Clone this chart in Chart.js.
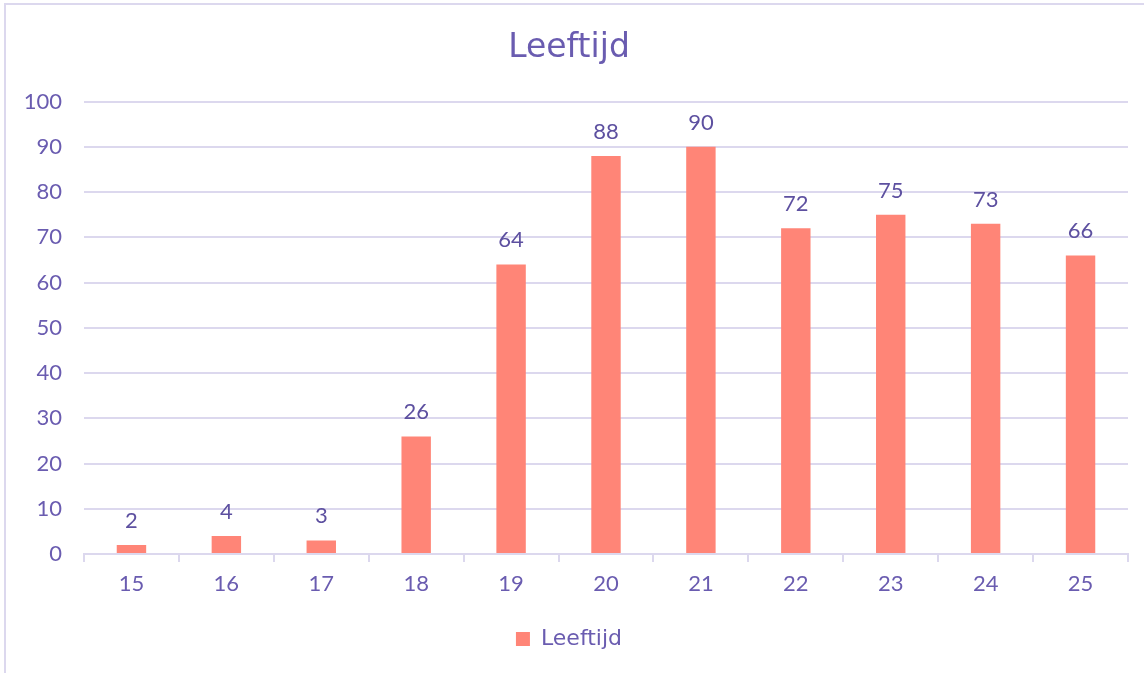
<!DOCTYPE html>
<html>
<head>
<meta charset="utf-8">
<script src="https://cdn.jsdelivr.net/npm/chart.js@4"></script>
<style>
  html, body { margin: 0; padding: 0; background: #fff; }
  #wrap { position: relative; width: 1144px; height: 673px; overflow: hidden; }
  #frame {
    position: absolute; left: 4px; top: 3px; right: -10px; bottom: -10px;
    border-left: 2px solid #dcd8ee; border-top: 2px solid #dcd8ee;
  }
  canvas { position: absolute; left: 0; top: 0; }
</style>
</head>
<body>
<div id="wrap">
  <div id="frame"></div>
  <canvas id="chart" width="1144" height="673"></canvas>
</div>
<script>
// Chart data
const ages = ['15', '16', '17', '18', '19', '20', '21', '22', '23', '24', '25'];
const counts = [2, 4, 3, 26, 64, 88, 90, 72, 75, 73, 66];
const seriesName = 'Leeftijd';
const chartTitle = 'Leeftijd';

const textColor = '#6a5cb0';
const gridColor = '#dcd8ee';
const barColor = '#ff8577';
const textFont = '"DejaVu Sans", sans-serif';
const numberFont = 'Lato, "Noto Sans", sans-serif';

// Draws value labels above each bar
const valueLabels = {
  id: 'valueLabels',
  afterDatasetsDraw(chart) {
    const { ctx } = chart;
    const meta = chart.getDatasetMeta(0);
    ctx.save();
    ctx.font = `22px ${numberFont}`;
    ctx.fillStyle = '#5d50a0';
    ctx.textAlign = 'center';
    ctx.textBaseline = 'alphabetic';
    meta.data.forEach((bar, i) => {
      ctx.fillText(String(counts[i]), bar.x, bar.y - 17);
    });
    ctx.restore();
  },
};

const canvas = document.getElementById('chart');
new Chart(canvas.getContext('2d'), {
  type: 'bar',
  data: {
    labels: ages,
    datasets: [{
      label: seriesName,
      data: counts,
      backgroundColor: barColor,
      categoryPercentage: 1,
      barPercentage: 0.31,
    }],
  },
  options: {
    responsive: false,
    animation: false,
    layout: {
      padding: { left: 10, right: 16, top: 15, bottom: 13 },
    },
    plugins: {
      title: {
        display: true,
        text: chartTitle,
        color: textColor,
        font: { family: textFont, size: 33, weight: 'normal' },
        padding: { top: 14, bottom: 33 },
      },
      legend: {
        position: 'bottom',
        labels: {
          color: textColor,
          font: { family: textFont, size: 22 },
          boxWidth: 14,
          boxHeight: 14,
          padding: 10,
        },
      },
      tooltip: { enabled: false },
    },
    scales: {
      x: {
        afterFit(scale) {
          scale.height = 64;
        },
        grid: {
          display: true,
          drawOnChartArea: false,
          drawTicks: true,
          tickLength: 8,
          color: gridColor,
          lineWidth: 2,
          offset: true,
        },
        border: { display: true, color: gridColor, width: 2 },
        ticks: {
          color: textColor,
          font: { family: numberFont, size: 22 },
          padding: 9,
        },
      },
      y: {
        min: 0,
        max: 100,
        afterFit(scale) {
          scale.width = 74;
        },
        ticks: {
          stepSize: 10,
          color: textColor,
          font: { family: numberFont, size: 22 },
          padding: 22,
        },
        grid: {
          color: gridColor,
          lineWidth: 2,
          drawTicks: false,
        },
        border: { display: false },
      },
    },
  },
  plugins: [valueLabels],
});
</script>
</body>
</html>
